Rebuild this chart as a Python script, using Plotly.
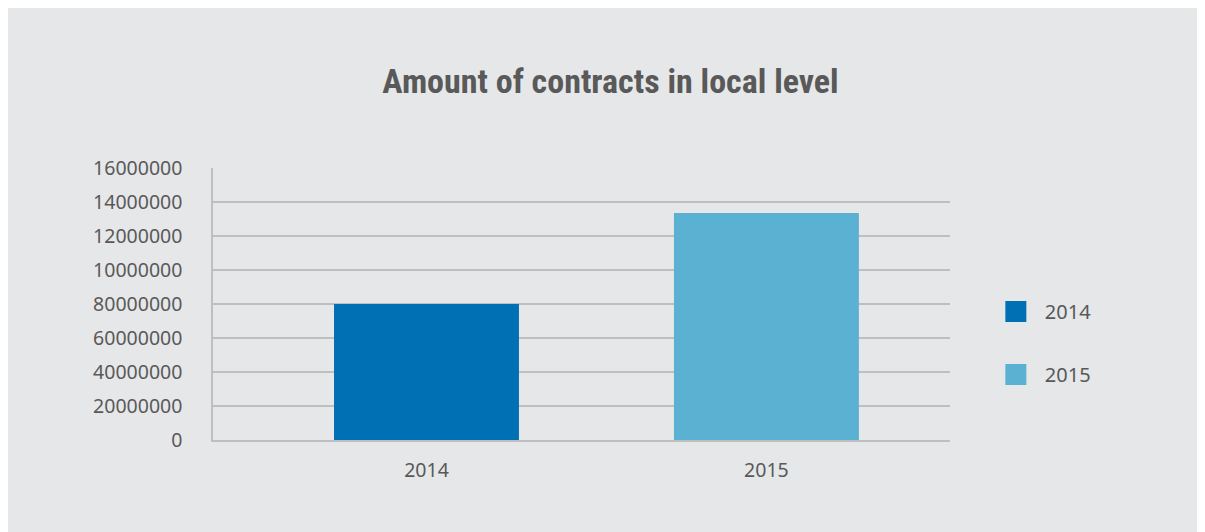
import plotly.graph_objects as go

categories = ["2014", "2015"]
values = [8000000, 13350000]
colors = ["#0070b5", "#5ab1d1"]
tick_vals = [0, 2000000, 4000000, 6000000, 8000000, 10000000, 12000000, 14000000, 16000000]
tick_text = ["0", "20000000", "40000000", "60000000", "80000000", "10000000", "12000000", "14000000", "16000000"]
title_text = "Amount of contracts in local level"

TXT = "#595959"
GRID = "#bfbfbf"
BG = "#e6e7e9"

fig = go.Figure()
for cat, val, col in zip(categories, values, colors):
    fig.add_trace(go.Bar(x=[cat], y=[val], name=cat, marker=dict(color=col, line=dict(width=0)),
                         width=0.544, showlegend=False))
for cat, col in zip(categories, colors):
    fig.add_trace(go.Scatter(x=[None], y=[None], mode="markers", name=cat, legendgroup=cat,
                             marker=dict(symbol="square", size=16, color=col,
                                         line=dict(width=5, color=col))))

fig.update_layout(
    width=1205, height=532,
    margin=dict(l=205, r=263, t=160, b=100),
    paper_bgcolor=BG,
    plot_bgcolor="rgba(0,0,0,0)",
    barmode="overlay",
    font=dict(family="Noto Sans", color=TXT, size=19.5),
    title=dict(text="<b>" + title_text + "</b>", x=0.5, xref="container", xanchor="center",
               y=0.862, yref="container", yanchor="middle",
               font=dict(family="Roboto Condensed, DejaVu Sans Condensed, Roboto", size=34, color=TXT)),
    xaxis=dict(type="category", categoryorder="array", categoryarray=categories,
               range=[-0.628, 1.540], showline=True, linecolor=GRID, linewidth=1.5,
               ticks="outside", ticklen=12, tickcolor="rgba(0,0,0,0)", showgrid=False,
               tickfont=dict(size=19.5, color=TXT)),
    yaxis=dict(range=[0, 16000000], tickvals=tick_vals, ticktext=tick_text, showgrid=True,
               gridcolor=GRID, gridwidth=1.5, showline=True, linecolor=GRID, linewidth=1.5,
               ticks="outside", ticklen=25, tickcolor="rgba(0,0,0,0)", zeroline=False,
               tickfont=dict(size=19.5, color=TXT)),
    legend=dict(x=1.050, xref="paper", xanchor="left", y=0.357, yanchor="middle",
                font=dict(size=20, color=TXT), tracegroupgap=34, bgcolor="rgba(0,0,0,0)",
                itemwidth=48),
    showlegend=True,
)

fig.write_html(
    "out.html",
    post_script="document.documentElement.style.overflow='hidden';document.body.style.overflow='hidden';",
)
